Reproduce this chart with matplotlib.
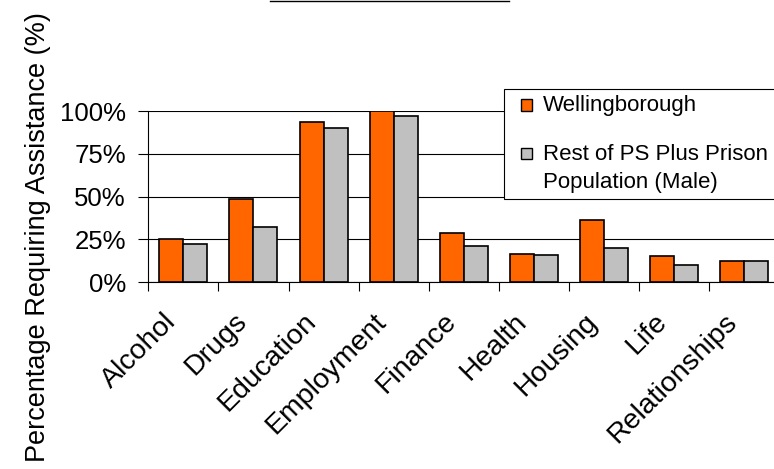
import matplotlib
matplotlib.use("Agg")
import matplotlib.pyplot as plt
import matplotlib.transforms as mtransforms
from matplotlib.patches import Rectangle
from matplotlib.lines import Line2D
import numpy as np

plt.rcParams['font.family'] = ['Liberation Sans', 'DejaVu Sans']

categories = ['Alcohol', 'Drugs', 'Education', 'Employment', 'Finance',
              'Health', 'Housing', 'Life', 'Relationships']
wellingborough = [25.1, 48.5, 93.6, 100.0, 28.7, 16.6, 36.3, 15.4, 12.3]
rest_of_ps = [22.2, 32.2, 90.3, 96.8, 20.9, 15.6, 19.9, 9.9, 12.3]
series_names = ['Wellingborough', 'Rest of PS Plus Prison', 'Population (Male)']
ytick_values = [0, 25, 50, 75, 100]
ytick_labels = ['0%', '25%', '50%', '75%', '100%']
ylabel = 'Percentage Requiring Assistance (%)'

ORANGE = '#FF6600'
GRAY = '#C0C0C0'

W, H = 774, 469
fig = plt.figure(figsize=(W / 100, H / 100), dpi=100)

def fx(x):
    return x / W

def fy(y):
    return 1 - y / H

ax_left, ax_right, ax_top, ax_bottom = 148.3, 779.2, 111.0, 282.0
ax = fig.add_axes([fx(ax_left), fy(ax_bottom),
                   (ax_right - ax_left) / W, (ax_bottom - ax_top) / H])

x = np.arange(len(categories))
bw = 0.343
ax.bar(x - bw / 2, wellingborough, width=bw, color=ORANGE,
       edgecolor='black', linewidth=1.2, zorder=3)
ax.bar(x + bw / 2, rest_of_ps, width=bw, color=GRAY,
       edgecolor='black', linewidth=1.2, zorder=3)

ax.set_xlim(-0.5, len(categories) - 0.5)
ax.set_ylim(0, 100)
ax.set_axisbelow(True)

# y axis
ax.set_yticks(ytick_values, ytick_labels)
ax.tick_params(axis='y', direction='out', length=7.2, width=0.8,
               pad=9, labelsize=18.5, colors='black')
ax.yaxis.grid(True, color='black', linewidth=0.8)

# x axis: ticks at category boundaries, labels at centers
ax.set_xticks(np.arange(-0.5, len(categories), 1.0))
ax.set_xticklabels([])
ax.tick_params(axis='x', which='major', direction='out', length=6.5,
               width=0.8, colors='black')
ax.set_xticks(x, categories, minor=True)
ax.tick_params(axis='x', which='minor', length=0, pad=19, labelsize=20.5)
shift = mtransforms.ScaledTranslation(-20 / 100, 0, fig.dpi_scale_trans)
for lbl in ax.get_xticklabels(minor=True):
    lbl.set_rotation(45)
    lbl.set_rotation_mode('anchor')
    lbl.set_ha('right')
    lbl.set_va('top')
    lbl.set_transform(lbl.get_transform() + shift)

for side in ['top', 'right']:
    ax.spines[side].set_visible(False)
for side in ['left', 'bottom']:
    ax.spines[side].set_color('black')
    ax.spines[side].set_linewidth(0.8)

# y label
fig.text(fx(38), fy(237.5), ylabel, rotation=90, ha='center', va='center',
         fontsize=19.5)

# legend (manual, partly outside the figure like the reference)
fig.add_artist(Rectangle((fx(504), fy(199)), (800 - 504) / W, (199 - 88.7) / H,
                         transform=fig.transFigure, facecolor='white',
                         edgecolor='black', linewidth=0.8, zorder=5))
sq = 11.6
for ytop, col in [(99.0, ORANGE), (147.7, GRAY)]:
    fig.add_artist(Rectangle((fx(520.7), fy(ytop + sq)), sq / W, sq / H,
                             transform=fig.transFigure, facecolor=col,
                             edgecolor='black', linewidth=1.0, zorder=6))
fig.text(fx(542.7), fy(110.7), series_names[0], ha='left', va='baseline',
         fontsize=16, zorder=7)
fig.text(fx(542.7), fy(160.0), series_names[1], ha='left', va='baseline',
         fontsize=16, zorder=7)
fig.text(fx(542.7), fy(188.3), series_names[2], ha='left', va='baseline',
         fontsize=16, zorder=7)

# cut-off title underline at the very top
fig.add_artist(Line2D([fx(270), fx(509.3)], [fy(0.6), fy(0.6)],
                      transform=fig.transFigure, color='black', linewidth=1.0))

fig.savefig('out.png', dpi=100)
